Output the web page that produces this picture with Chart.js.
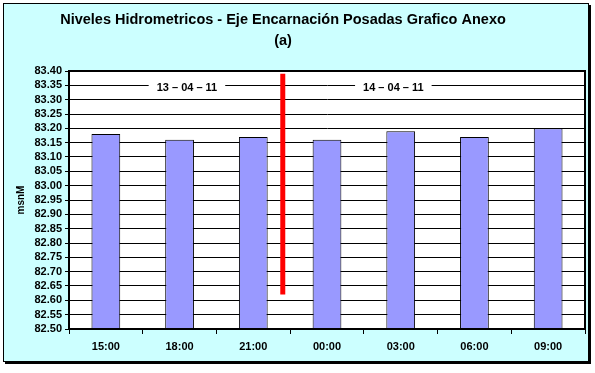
<!DOCTYPE html>
<html>
<head>
<meta charset="utf-8">
<title>Niveles Hidrometricos</title>
<script src="https://cdn.jsdelivr.net/npm/chart.js@4/dist/chart.umd.min.js"></script>
<style>
    html, body { margin: 0; padding: 0; background: #fff; }
    #frame {
        position: absolute; left: 3px; top: 3px;
        width: 584px; height: 357px;
        border: 1px solid #000;
        box-shadow: 2px 2px 0 #000;
        background: #ccffff;
    }
    #wrap { position: absolute; left: 0; top: 0; width: 595px; height: 373px; }
</style>
</head>
<body>
<div id="frame"></div>
<div id="wrap"><canvas id="chart" width="595" height="373"></canvas></div>
<script>
// ── Data ──
const horas = ['15:00', '18:00', '21:00', '00:00', '03:00', '06:00', '09:00'];
const niveles = [83.18, 83.16, 83.17, 83.16, 83.19, 83.17, 83.20];

const yMin = 82.50;
const yMax = 83.40;
const yPaso = 0.05;

const titulo = ['Niveles Hidrometricos - Eje Encarnación Posadas Grafico Anexo', '(a)'];
const ejeY = 'msnM';

// day labels: text, category position, level
const fechas = ['13 – 04 – 11', '14 – 04 – 11'];
const fechaPos = [1.1, 3.9];
const fechaNivel = 83.34;

// red separator between days
const corteX = 2.4;
const corteDesde = 82.62;
const corteHasta = 83.39;

const FONT = "'Liberation Sans', Arial, sans-serif";

// ── Extra drawing ──
const extras = {
    id: 'extras',
    beforeDraw(chart) {
        const { ctx, chartArea: a } = chart;
        ctx.save();
        ctx.fillStyle = '#ffffff';
        ctx.fillRect(a.left, a.top, a.right - a.left, a.bottom - a.top);
        ctx.restore();
    },
    afterDatasetsDraw(chart) {
        const { ctx, chartArea: a, scales: { x, y } } = chart;
        ctx.save();

        // day separator
        const xc = x.getPixelForValue(corteX);
        ctx.strokeStyle = '#ff0000';
        ctx.lineWidth = 5;
        ctx.beginPath();
        ctx.moveTo(xc, y.getPixelForValue(corteDesde));
        ctx.lineTo(xc, y.getPixelForValue(corteHasta));
        ctx.stroke();

        // day labels
        ctx.font = `bold 11px ${FONT}`;
        ctx.textAlign = 'center';
        ctx.textBaseline = 'middle';
        fechas.forEach((f, i) => {
            const px = x.getPixelForValue(fechaPos[i]);
            const py = y.getPixelForValue(fechaNivel);
            const w = ctx.measureText(f).width + 16;
            ctx.fillStyle = '#ffffff';
            ctx.fillRect(px - w / 2, py - 7, w, 14);
            ctx.fillStyle = '#000000';
            ctx.fillText(f, px, py);
        });

        // plot frame
        ctx.strokeStyle = '#000000';
        ctx.lineWidth = 2;
        ctx.strokeRect(a.left, a.top, a.right - a.left, a.bottom - a.top);

        // title
        ctx.font = `bold 14.5px ${FONT}`;
        ctx.fillStyle = '#000000';
        ctx.fillText(titulo[0], 283, 20);
        ctx.fillText(titulo[1], 283, 41);
        ctx.restore();
    }
};

new Chart(document.getElementById('chart'), {
    type: 'bar',
    data: {
        labels: horas,
        datasets: [{
            label: 'Nivel',
            data: niveles,
            backgroundColor: '#9999ff',
            borderColor: '#000000',
            borderWidth: 1,
            categoryPercentage: 1,
            barPercentage: 0.39
        }]
    },
    options: {
        responsive: false,
        animation: false,
        layout: { padding: { top: 71, left: 0, right: 10, bottom: 0 } },
        plugins: {
            legend: { display: false },
            tooltip: { enabled: false },
            title: { display: false }
        },
        scales: {
            x: {
                afterFit(scale) { scale.height = 44; },
                grid: { display: true, drawOnChartArea: false, tickLength: 5, color: '#000000', offset: true },
                border: { display: true, color: '#000000', width: 2 },
                ticks: { color: '#000000', font: { family: FONT, size: 11, weight: 'bold' }, padding: 6, maxRotation: 0 }
            },
            y: {
                min: yMin,
                max: yMax,
                afterFit(scale) { scale.width = 69; },
                grid: { color: '#000000', lineWidth: 1, tickLength: 4 },
                border: { display: true, color: '#000000', width: 2 },
                ticks: {
                    stepSize: yPaso,
                    autoSkip: false,
                    color: '#000000',
                    padding: 3,
                    font: { family: FONT, size: 11, weight: 'bold' },
                    callback: v => Number(v).toFixed(2)
                },
                title: {
                    display: true,
                    text: ejeY,
                    color: '#000000',
                    font: { family: FONT, size: 10, weight: 'bold' },
                    padding: { top: 15, bottom: 0 }
                }
            }
        }
    },
    plugins: [extras]
});
</script>
</body>
</html>
